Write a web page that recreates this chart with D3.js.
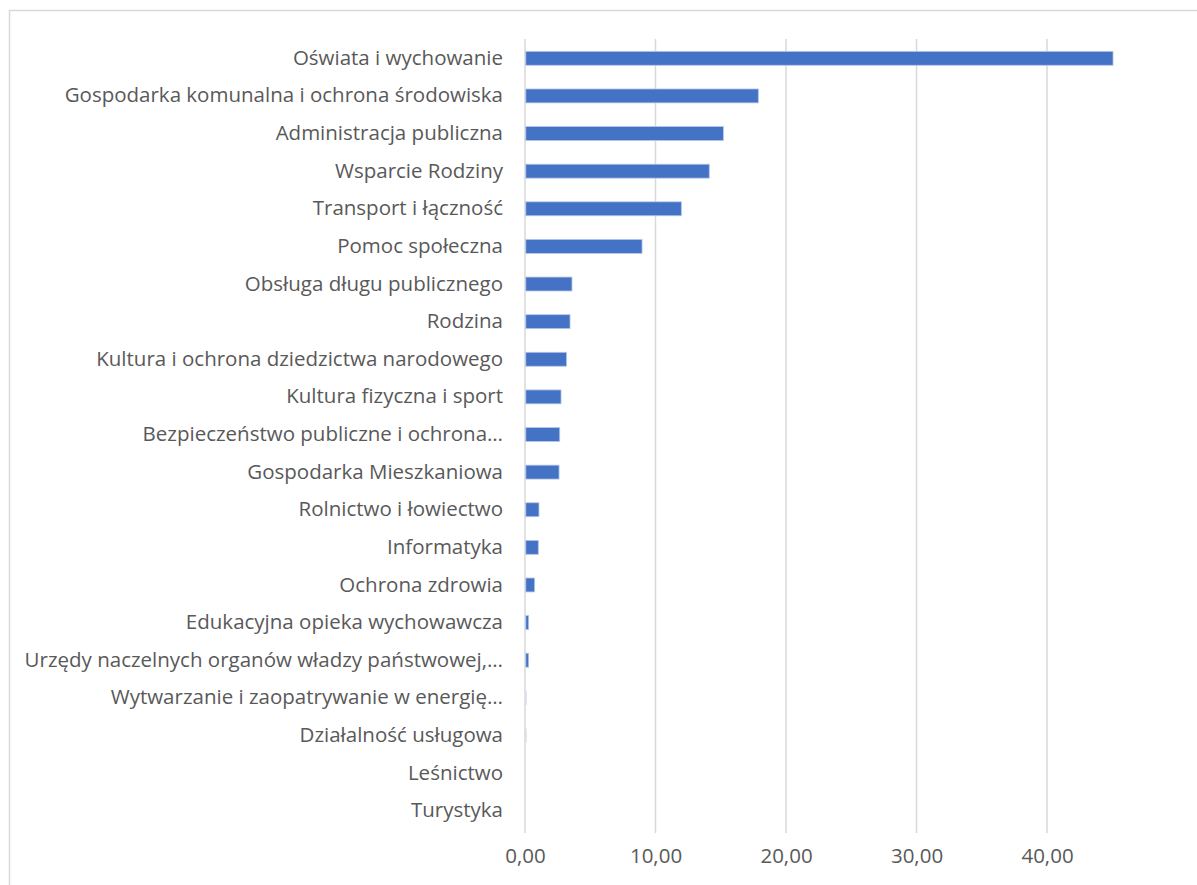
<!DOCTYPE html>
<html>
<head>
<meta charset="utf-8">
<script src="https://cdn.jsdelivr.net/npm/d3@7"></script>
<style>
  body { margin: 0; background: #fff; }
  text { font-family: "Open Sans", sans-serif; fill: #595959; }
</style>
</head>
<body>
<svg id="chart" width="1197" height="885"></svg>
<script>
var categories = [
  "Oświata i wychowanie",
  "Gospodarka komunalna i ochrona środowiska",
  "Administracja publiczna",
  "Wsparcie Rodziny",
  "Transport i łączność",
  "Pomoc społeczna",
  "Obsługa długu publicznego",
  "Rodzina",
  "Kultura i ochrona dziedzictwa narodowego",
  "Kultura fizyczna i sport",
  "Bezpieczeństwo publiczne i ochrona…",
  "Gospodarka Mieszkaniowa",
  "Rolnictwo i łowiectwo",
  "Informatyka",
  "Ochrona zdrowia",
  "Edukacyjna opieka wychowawcza",
  "Urzędy naczelnych organów władzy państwowej,…",
  "Wytwarzanie i zaopatrywanie w energię…",
  "Działalność usługowa",
  "Leśnictwo",
  "Turystyka"
];
var values = [45.06, 17.88, 15.2, 14.12, 11.98, 8.97, 3.6, 3.45, 3.18, 2.76, 2.66, 2.61,
  1.07, 1.02, 0.74, 0.28, 0.28, 0.1, 0.08, 0, 0];
var ticks = [0, 10, 20, 30, 40];

var svg = d3.select("#chart");

// outer chart border (right/bottom run off the picture)
svg.append("rect").attr("x", 9.5).attr("y", 10.5).attr("width", 1300).attr("height", 1000)
  .attr("fill", "#fff").attr("stroke", "#d9d9d9").attr("stroke-width", 1.5);

var x = d3.scaleLinear().domain([0, 50]).range([525, 1177.5]);
var y = d3.scaleBand().domain(categories).range([39.5, 829.5]).paddingInner(0.63).paddingOuter(0.315);

var grid = svg.append("g");
grid.selectAll("line").data(ticks).enter().append("line")
  .attr("x1", function(d){ return x(d); })
  .attr("x2", function(d){ return x(d); })
  .attr("y1", 39).attr("y2", 833)
  .attr("stroke", "#d9d9d9").attr("stroke-width", 1.5);

svg.append("g").selectAll("rect").data(values).enter().append("rect")
  .attr("x", x(0) + 0.8)
  .attr("y", function(d, i){ return y(categories[i]); })
  .attr("width", function(d){ return d > 0 ? Math.max(0.8, x(d) - x(0) - 0.8) : 0; })
  .attr("height", y.bandwidth())
  .attr("fill", function(d){ return d < 0.2 ? "#c9d6ee" : "#4472c4"; })
  .attr("stroke", function(d){ return d >= 0.2 ? "#b4c7e7" : "none"; })
  .attr("stroke-width", 0.8);

var axisX = d3.axisBottom(x).tickValues(ticks).tickSize(0)
  .tickFormat(function(d){ return d3.format(".2f")(d).replace(".", ","); });
var gx = svg.append("g").attr("transform", "translate(0,845)").call(axisX);
gx.select(".domain").remove();
gx.selectAll("text").attr("font-size", 20.5).style("font-family", "'Open Sans', sans-serif").attr("fill", "#595959");

var axisY = d3.axisLeft(y).tickSize(0).tickPadding(0);
var gy = svg.append("g").attr("transform", "translate(503,0)").call(axisY);
gy.select(".domain").remove();
gy.selectAll("text").attr("font-size", 20.5).style("font-family", "'Open Sans', sans-serif").attr("fill", "#595959");
</script>
</body>
</html>
